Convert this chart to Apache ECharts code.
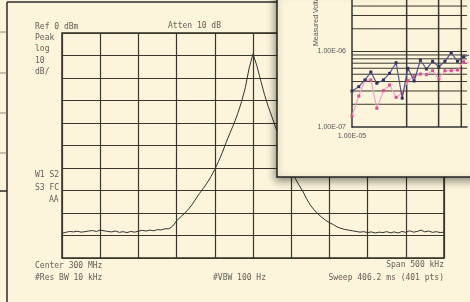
<!DOCTYPE html>
<html>
<head>
    <meta charset="utf-8">
    <title>Spectrum</title>
    <script src="https://cdn.jsdelivr.net/npm/echarts@6/dist/echarts.min.js"></script>
    <style>
        html, body { margin: 0; padding: 0; background: #fcf5dc; }
        #main { width: 470px; height: 302px; }
    </style>
</head>
<body>
<div id="main"></div>
<script>
    // spectrum trace, offset from center (kHz) and level (dBm)
    var freqOffset = [-250,-245,-240,-235,-230,-225,-220,-215,-210,-205,-200,-195,-190,-185,-180,-175,-170,-165,-160,-155,
        -150,-145,-140,-135,-130,-125,-120,-115,-110,-105,-100,-95,-90,-85,-80,-75,-70,-65,-60,-55,
        -50,-45,-40,-35,-30,-25,-20,-15,-10,-5,0,5,10,15,20,25,30,35,40,45,
        50,55,60,65,70,75,80,85,90,95,100,105,110,115,120,125,130,135,140,145,
        150,155,160,165,170,175,180,185,190,195,200,205,210,215,220,225,230,235,240,245,250];
    var level = [-89.0,-88.6,-88.2,-88.4,-88.1,-88.5,-88.3,-88.0,-87.8,-88.2,-87.6,-87.9,-88.2,-88.4,-88.0,-88.6,-88.3,-88.7,-88.2,-88.5,
        -88.1,-87.7,-88.0,-87.6,-87.9,-87.4,-87.5,-87.0,-87.0,-85.8,-83.5,-81.8,-80.3,-78.5,-76.4,-73.8,-71.3,-69.0,-66.6,-63.8,
        -60.6,-57.0,-53.0,-48.5,-44.3,-40.4,-35.8,-30.6,-24.2,-15.5,-9.3,-14.5,-21.0,-27.3,-32.7,-37.4,-42.4,-46.5,-51.0,-55.5,
        -60.0,-64.4,-67.5,-70.2,-73.6,-76.5,-78.6,-80.4,-81.9,-83.2,-84.3,-85.1,-86.2,-86.8,-87.3,-87.6,-87.9,-88.2,-88.5,-88.3,
        -88.7,-88.4,-88.9,-88.5,-88.7,-88.3,-88.8,-88.4,-88.9,-88.2,-88.6,-87.9,-88.5,-88.2,-87.6,-88.4,-88.0,-88.6,-88.3,-88.7,-88.5];

    // inset chart (log-log)
    var insetX = [1.00e-5,1.09e-5,1.18e-5,1.27e-5,1.37e-5,1.49e-5,1.61e-5,1.75e-5,1.89e-5,2.03e-5,
        2.20e-5,2.38e-5,2.57e-5,2.78e-5,3.01e-5,3.25e-5,3.52e-5,3.81e-5,4.12e-5,4.45e-5];
    var insetDark = [3.0e-7,3.42e-7,4.2e-7,5.35e-7,3.79e-7,4.2e-7,5.14e-7,7.1e-7,2.41e-7,5.99e-7,
        4.07e-7,7.71e-7,5.86e-7,7.42e-7,6.29e-7,7.42e-7,9.64e-7,7.42e-7,8.53e-7,9.0e-7];
    var insetPink = [1.4e-7,2.57e-7,4.16e-7,4.2e-7,1.77e-7,3.03e-7,3.6e-7,2.47e-7,2.85e-7,4.1e-7,
        4.64e-7,5.03e-7,4.93e-7,5.57e-7,4.32e-7,5.57e-7,5.57e-7,5.69e-7,7.33e-7,7.0e-7];
    var insetGridY = [2e-7,3e-7,4e-7,5e-7,6e-7,7e-7,8e-7,9e-7,1e-6,2e-6,3e-6,4e-6];
    var insetGridX = [2e-5,3e-5,4e-5];
    var insetXMin = 1e-5, insetXMax = 4.3e-5;
    var insetYMin = 1e-7, insetYMax = 4.81e-6;

    var bg = '#fcf5dc';
    var ink = '#626058';
    var mono = '8px "DejaVu Sans Mono"';

    function zip(a, b) {
        var out = [];
        for (var i = 0; i < a.length; i++) out.push([a[i], b[i]]);
        return out;
    }
    function sciLabel(v) {
        var e = Math.log10(v);
        if (Math.abs(e - Math.round(e)) > 1e-6) return '';
        var n = -Math.round(e);
        return '1.00E-' + (n < 10 ? '0' + n : n);
    }
    function txt(s, x, y, align) {
        return {
            type: 'text', z: 1, silent: true,
            style: { text: s, x: x, y: y, font: mono, fill: ink,
                textAlign: align || 'left', align: align || 'left',
                textVerticalAlign: 'middle', verticalAlign: 'middle' }
        };
    }
    function ln(x1, y1, x2, y2, c, w) {
        return { type: 'line', z: 1, silent: true,
            shape: { x1: x1, y1: y1, x2: x2, y2: y2 },
            style: { stroke: c, lineWidth: w } };
    }
    function gridSeries(data, w) {
        return { type: 'line', xAxisIndex: 1, yAxisIndex: 1, z: 10, silent: true,
            data: data, showSymbol: false, symbol: 'none',
            lineStyle: { color: '#3a382c', width: w } };
    }

    var series = [{
        type: 'line', xAxisIndex: 0, yAxisIndex: 0, z: 2,
        data: zip(freqOffset, level),
        showSymbol: false, smooth: false,
        lineStyle: { color: '#333', width: 1 }
    }];
    insetGridY.forEach(function (v) {
        series.push(gridSeries([[insetXMin, v], [insetXMax, v]], 1));
    });
    insetGridX.forEach(function (v) {
        series.push(gridSeries([[v, insetYMin], [v, insetYMax]], 1.5));
    });
    series.push({
        type: 'line', xAxisIndex: 1, yAxisIndex: 1, z: 12,
        data: zip(insetX, insetPink),
        symbol: 'rect', symbolSize: 3,
        itemStyle: { color: '#d8508e' },
        lineStyle: { color: '#f0a4c8', width: 1.2 }
    });
    series.push({
        type: 'line', xAxisIndex: 1, yAxisIndex: 1, z: 13,
        data: zip(insetX, insetDark),
        symbol: 'rect', symbolSize: 3,
        itemStyle: { color: '#33325e' },
        lineStyle: { color: '#57568a', width: 1.2 }
    });

    var chart = echarts.init(document.getElementById('main'));
    var option = {
        backgroundColor: bg,
        animation: false,
        grid: [
            { left: 62, top: 33, width: 382, height: 225, show: true,
              borderColor: '#2e2c22', borderWidth: 1.5, backgroundColor: 'transparent' },
            { left: 352, top: 0, right: 0, height: 127 }
        ],
        xAxis: [
            { type: 'value', gridIndex: 0, min: -250, max: 250, interval: 50,
              axisLine: { show: false }, axisTick: { show: false }, axisLabel: { show: false },
              splitLine: { lineStyle: { color: '#3a382c', width: 1.2 } } },
            { type: 'log', gridIndex: 1, logBase: 10, min: insetXMin, max: insetXMax, z: 11,
              axisLine: { lineStyle: { color: '#333', width: 1.5 } }, axisTick: { show: false },
              splitLine: { show: false },
              axisLabel: { formatter: sciLabel, fontSize: 7, color: '#555', margin: 6,
                  fontFamily: 'Liberation Sans' } }
        ],
        yAxis: [
            { type: 'value', gridIndex: 0, min: -100, max: 0, interval: 10,
              axisLine: { show: false }, axisTick: { show: false }, axisLabel: { show: false },
              splitLine: { lineStyle: { color: '#3a382c', width: 1.2 } } },
            { type: 'log', gridIndex: 1, logBase: 10, min: insetYMin, max: insetYMax, z: 11,
              axisLine: { show: true, lineStyle: { color: '#333', width: 1.5 } }, axisTick: { show: false },
              splitLine: { show: false },
              axisLabel: { formatter: sciLabel, fontSize: 7, color: '#555', margin: 6,
                  fontFamily: 'Liberation Sans' } }
        ],
        series: series,
        graphic: [
            // frame of the screenshot behind
            ln(7, 2, 280, 2, '#2a2a2a', 1.5),
            ln(7, 2, 7, 302, '#2a2a2a', 1.5),
            ln(0, 32, 7, 32, '#8a8a80', 1),
            ln(0, 73, 7, 73, '#8a8a80', 1),
            ln(0, 113, 7, 113, '#8a8a80', 1),
            ln(0, 153, 7, 153, '#8a8a80', 1),
            ln(0, 191, 7, 191, '#2a2a2a', 1.5),
            txt('Ref 0 dBm', 35, 27),
            txt('Atten 10 dB', 168, 26),
            txt('Peak', 35, 38),
            txt('log', 35, 49),
            txt('10', 35, 61),
            txt('dB/', 35, 72),
            txt('W1 S2', 35, 175),
            txt('S3 FC', 35, 188),
            txt('AA', 49, 200),
            txt('Center 300 MHz', 35, 266),
            txt('#Res BW 10 kHz', 35, 278),
            txt('#VBW 100 Hz', 213, 278),
            txt('Span 500 kHz', 444, 265, 'right'),
            txt('Sweep 406.2 ms (401 pts)', 444, 278, 'right'),
            // inset panel
            {
                type: 'rect', z: 8, silent: true,
                shape: { x: 277, y: -10, width: 210, height: 187 },
                style: { fill: bg, stroke: '#222', lineWidth: 1.5,
                    shadowBlur: 8, shadowColor: 'rgba(0,0,0,0.45)', shadowOffsetX: -1, shadowOffsetY: 3 }
            },
            {
                type: 'text', z: 9, silent: true, x: 316, y: 46, rotation: Math.PI / 2,
                style: { text: 'Measured Voltage (V)', font: '7px "Liberation Sans"', fill: '#555',
                    textAlign: 'left', align: 'left', textVerticalAlign: 'middle', verticalAlign: 'middle' }
            }
        ]
    };
    chart.setOption(option);
</script>
</body>
</html>
